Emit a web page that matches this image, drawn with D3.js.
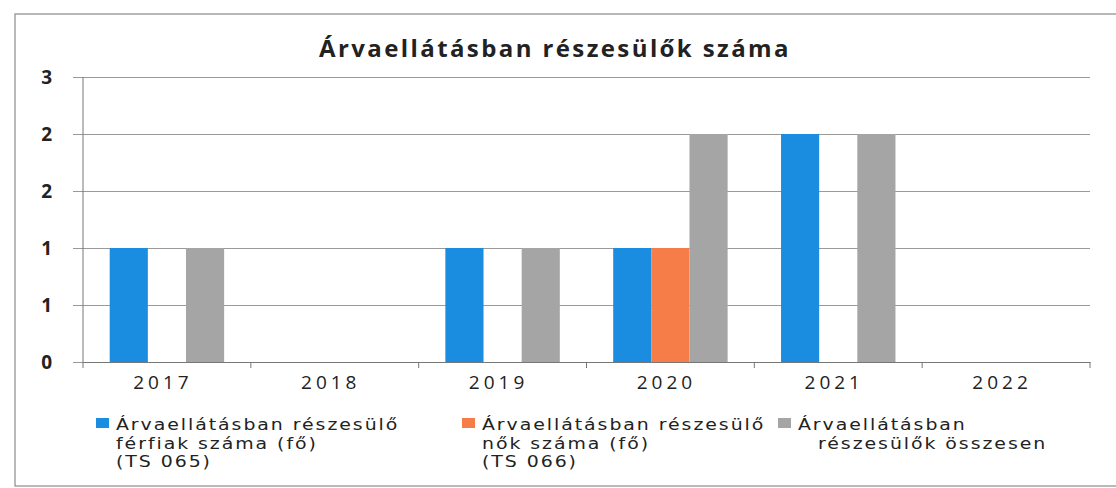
<!DOCTYPE html>
<html>
<head>
<meta charset="utf-8">
<script src="https://cdn.jsdelivr.net/npm/d3@7"></script>
<style>
  body { margin: 0; background: #fff; }
  text { font-family: "Open Sans", "DejaVu Sans", sans-serif; fill: #222; }
  .leg text { font-family: "DejaVu Sans", sans-serif; }
</style>
</head>
<body>
<svg id="chart" width="1116" height="488"></svg>
<script>
var years = ['2017', '2018', '2019', '2020', '2021', '2022'];
var ferfiak = [1, 0, 1, 1, 2, 0];
var nok = [0, 0, 0, 1, 0, 0];
var osszesen = [1, 0, 1, 2, 2, 0];
var yTicks = [0, 0.5, 1, 1.5, 2, 2.5];

var seriesNames = [
	['Árvaellátásban részesülő', 'férfiak száma (fő)', '(TS 065)'],
	['Árvaellátásban részesülő', 'nők száma (fő)', '(TS 066)'],
	['Árvaellátásban', 'részesülők összesen']
];
var colors = ['#1a8de0', '#f67c48', '#a5a5a5'];
var series = [ferfiak, nok, osszesen];

var svg = d3.select('#chart');
var margin = {left: 83, right: 1090, top: 77, bottom: 362};

// outer frame
svg.append('rect')
	.attr('x', 15).attr('y', 14)
	.attr('width', 1120).attr('height', 472)
	.attr('fill', 'none').attr('stroke', '#8a8a8a').attr('stroke-width', 1.2);

svg.append('text')
	.attr('x', 555).attr('y', 57)
	.attr('text-anchor', 'middle')
	.style('font-size', '24px').style('font-weight', 'bold')
	.style('letter-spacing', '2.4px')
	.text('Árvaellátásban részesülők száma');

var x = d3.scaleBand().domain(years).range([margin.left, margin.right]);
var xs = d3.scaleBand().domain([0, 1, 2]).range([0, x.bandwidth()]).paddingOuter(0.7);
var y = d3.scaleLinear().domain([0, 2.5]).range([margin.bottom, margin.top]);

// gridlines + y labels (Excel shows the half steps rounded)
var yAxis = d3.axisLeft(y).tickValues(yTicks)
	.tickSize(-(margin.right - margin.left))
	.tickFormat(function (d) { return Math.round(d + 0.0001); });
var gy = svg.append('g').attr('transform', 'translate(' + margin.left + ',0)').call(yAxis);
gy.select('.domain').remove();
gy.selectAll('.tick line').attr('stroke', '#9a9a9a').attr('x1', -10);
gy.selectAll('.tick text')
	.attr('x', -30)
	.style('font-size', '19px').style('font-weight', 'bold').style('letter-spacing', '1px')
	.attr('text-anchor', 'end').attr('fill', '#222');

// bars
series.forEach(function (vals, s) {
	svg.append('g').selectAll('rect').data(vals).enter().append('rect')
		.attr('x', function (d, i) { return x(years[i]) + xs(s); })
		.attr('width', xs.bandwidth())
		.attr('y', function (d) { return y(d); })
		.attr('height', function (d) { return y(0) - y(d); })
		.attr('fill', colors[s]);
});

// axes lines
svg.append('line')
	.attr('x1', margin.left).attr('x2', margin.left)
	.attr('y1', margin.top).attr('y2', margin.bottom)
	.attr('stroke', '#777');
var xAxis = d3.axisBottom(x).tickSize(0);
var gx = svg.append('g').attr('transform', 'translate(0,' + margin.bottom + ')').call(xAxis);
gx.select('.domain').attr('stroke', '#777');
gx.selectAll('.tick text')
	.attr('y', 14).attr('dx', '-4px')
	.style('font-size', '19px').style('letter-spacing', '4px')
	.attr('fill', '#222');
svg.append('g').selectAll('line').data(years.concat(['end'])).enter().append('line')
	.attr('x1', function (d, i) { return margin.left + i * x.bandwidth(); })
	.attr('x2', function (d, i) { return margin.left + i * x.bandwidth(); })
	.attr('y1', margin.bottom).attr('y2', margin.bottom + 6)
	.attr('stroke', '#777');

// legend - the scan is stretched sideways, so the text is too
var legendX = [96, 462, 778];
var leg = svg.append('g').attr('class', 'leg').selectAll('g').data(seriesNames).enter().append('g')
	.attr('transform', function (d, i) { return 'translate(' + legendX[i] + ',418)'; });
leg.append('rect')
	.attr('width', 13).attr('height', 10)
	.attr('fill', function (d, i) { return colors[i]; });
leg.each(function (lines, s) {
	var indent = s == 2 ? 40 : 20;
	d3.select(this).selectAll('g').data(lines).enter().append('g')
		.attr('transform', function (d, i) {
			return 'translate(' + (i > 0 ? indent : 20) + ',' + (12 + i * 18.5) + ') scale(1.22,1)';
		})
		.append('text')
		.style('font-size', '15.5px').style('letter-spacing', '1.6px')
		.text(function (d) { return d; });
});
</script>
</body>
</html>
